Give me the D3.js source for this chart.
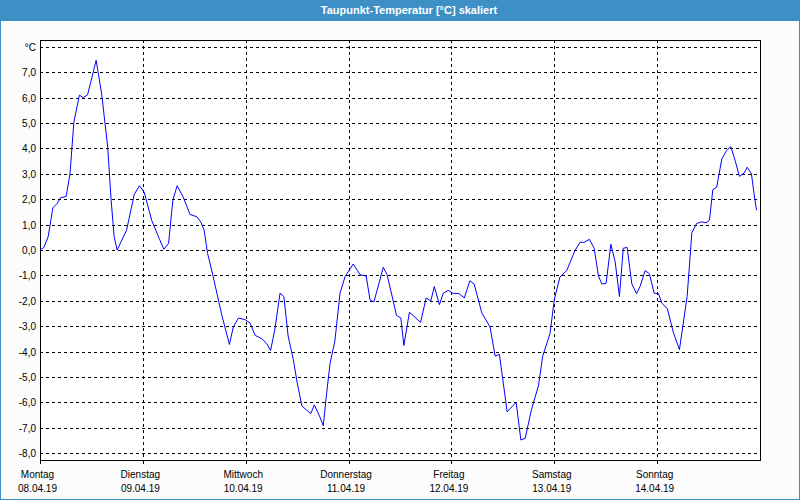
<!DOCTYPE html>
<html>
<head>
<meta charset="utf-8">
<script src="https://cdn.jsdelivr.net/npm/d3@7"></script>
<style>
body { margin: 0; padding: 0; background: #fff; }
svg { display: block; font-family: "Liberation Sans", Arial, sans-serif; }
</style>
</head>
<body>
<script>
var width = 800, height = 500;
//Plot frame inside the window.
var margin = {top: 40, right: 40, bottom: 40, left: 40};
var innerWidth = width - margin.left - margin.right;
var innerHeight = height - margin.top - margin.bottom;

var title = 'Taupunkt-Temperatur [°C] skaliert';
var dayNames = ['Montag', 'Dienstag', 'Mittwoch', 'Donnerstag', 'Freitag', 'Samstag', 'Sonntag'];
var dayDates = ['08.04.19', '09.04.19', '10.04.19', '11.04.19', '12.04.19', '13.04.19', '14.04.19'];
var yTicks = [-8, -7, -6, -5, -4, -3, -2, -1, 0, 1, 2, 3, 4, 5, 6, 7, 8];

//Hours since Monday 00:00 and dew point in °C.
var hours = [0, 0.9, 1.9, 3.0, 4.0, 4.8, 6.1, 7.0, 7.9, 9.2, 10.1, 11.1, 13.1, 14.4, 15.8, 16.6, 17.3, 18.0,
	20.2, 22.0, 23.2, 24.3, 26.1, 27.8, 28.9, 30.0, 31.0, 32.0, 33.4, 35.0, 36.6, 37.5, 38.3, 39.1, 40.4, 42.4,
	44.2, 45.1, 46.3, 47.8, 49.0, 50.2, 51.7, 52.9, 53.8, 54.8, 56.0, 56.9, 57.9, 59.1, 60.0, 61.1, 62.1, 63.2,
	64.0, 65.2, 66.1, 66.9, 67.7, 68.8, 70.0, 71.2, 73.1, 74.7, 76.1, 77.0, 77.9, 80.1, 81.0, 83.2, 84.2, 84.9,
	86.2, 88.8, 90.1, 91.2, 92.0, 93.2, 94.1, 95.3, 96.3, 97.8, 99.0, 100.3, 101.3, 103.1, 105.0, 106.2, 107.2,
	109.0, 111.1, 112.2, 113.2, 114.7, 116.3, 117.3, 119.0, 120.0, 121.3, 122.9, 124.8, 126.0, 126.9, 128.2,
	129.3, 130.3, 131.1, 132.1, 133.2, 134.2, 135.2, 136.1, 137.0, 138.1, 139.2, 140.0, 141.2, 142.2, 143.3,
	144.3, 145.1, 146.4, 147.8, 149.2, 150.0, 151.0, 152.1, 153.2, 154.4, 155.4, 156.2, 157.0, 157.9, 159.1,
	160.2, 161.2, 162.2, 163.2, 164.3, 165.0, 166.0, 166.6, 167.2];
var values = [0, 0.1, 0.52, 1.66, 1.83, 2.06, 2.11, 3.0, 5.03, 6.1, 6.0, 6.11, 7.47, 6.14, 4.05, 1.96, 0.52, 0,
	0.78, 2.19, 2.53, 2.28, 1.15, 0.46, 0.03, 0.26, 1.96, 2.53, 2.09, 1.40, 1.31, 1.11, 0.78, -0.13, -1.04, -2.55,
	-3.72, -3.03, -2.68, -2.74, -2.87, -3.36, -3.49, -3.68, -3.96, -3.13, -1.70, -1.83, -3.39, -4.31, -5.22, -6.14, -6.29, -6.44,
	-6.10, -6.53, -6.92, -5.61, -4.44, -3.59, -1.70, -1.04, -0.55, -0.98, -1.02, -1.96, -2.05, -0.68, -0.98, -2.58, -2.68, -3.76,
	-2.45, -2.85, -1.89, -2.0, -1.44, -2.15, -1.70, -1.59, -1.70, -1.72, -1.89, -1.21, -1.34, -2.48, -3.03, -4.18, -4.11,
	-6.37, -6.0, -7.48, -7.42, -6.27, -5.35, -4.18, -3.29, -1.96, -1.07, -0.81, -0.03, 0.30, 0.30, 0.42,
	0.07, -1.02, -1.34, -1.31, 0.23, -0.46, -1.83, 0.07, 0.10, -1.34, -1.72, -1.44, -0.81, -0.94, -1.70,
	-1.72, -2.09, -2.32, -3.26, -3.92, -3.0, -1.83, 0.68, 1.04, 1.11, 1.07, 1.17, 2.38, 2.48, 3.59,
	3.92, 4.07, 3.52, 2.90, 3.03, 3.26, 3.0, 2.22, 1.57];

var data = hours.map(function(h, i) { return {h: h, v: values[i]}; });

var svg = d3.select('body').append('svg')
	.attr('width', width)
	.attr('height', height);

//Window background, title bar and blue frame.
svg.append('rect')
	.attr('width', width).attr('height', height)
	.style('fill', '#fbfcfb');
svg.append('rect')
	.attr('x', 0.5).attr('y', 0.5)
	.attr('width', width - 1).attr('height', height - 1)
	.style('fill', 'none').style('stroke', '#3d8fc5');
svg.append('rect')
	.attr('width', width).attr('height', 21)
	.style('fill', '#3d8fc5');
svg.append('text')
	.attr('x', 409).attr('y', 14)
	.attr('text-anchor', 'middle')
	.style('fill', '#fff')
	.style('font-size', '11px')
	.style('font-weight', 'bold')
	.text(title);

var xScale = d3.scaleLinear().domain([0, 168]).range([0, innerWidth]);
var yScale = d3.scaleLinear().domain([-8.27, 8.27]).range([innerHeight, 0]);

var inner = svg.append('g')
	.attr('transform', 'translate(' + margin.left + ',' + margin.top + ')');

inner.append('rect')
	.attr('width', innerWidth).attr('height', innerHeight)
	.style('fill', '#fff');

//Horizontal grid.
inner.selectAll('.hgrid').data(yTicks).enter().append('line')
	.attr('class', 'hgrid')
	.attr('x1', 0).attr('x2', innerWidth)
	.attr('y1', function(d) { return Math.round(yScale(d)) + 0.5; })
	.attr('y2', function(d) { return Math.round(yScale(d)) + 0.5; })
	.style('stroke', '#000')
	.style('stroke-dasharray', '3,3');
//Y labels, decimal comma.
svg.selectAll('.ylabel').data(yTicks).enter().append('text')
	.attr('class', 'ylabel')
	.attr('x', margin.left - 4)
	.attr('y', function(d) { return margin.top + yScale(d) + 4; })
	.attr('text-anchor', 'end')
	.style('font-size', '10px')
	.style('fill', '#000')
	.text(function(d) { return d == 8 ? '°C' : d3.format('.1f')(d).replace('.', ',').replace('−', '-'); });

//Vertical grid at each midnight.
var dayTicks = d3.range(7).map(function(d) { return d * 24; });
inner.selectAll('.vgrid').data(dayTicks.slice(1)).enter().append('line')
	.attr('class', 'vgrid')
	.attr('x1', function(d) { return Math.round(xScale(d)) + 0.5; })
	.attr('x2', function(d) { return Math.round(xScale(d)) + 0.5; })
	.attr('y1', 0).attr('y2', innerHeight)
	.style('stroke', '#000')
	.style('stroke-dasharray', '3,3');

//Bottom ticks and two-line day labels.
inner.selectAll('.xtick').data(dayTicks).enter().append('line')
	.attr('class', 'xtick')
	.attr('x1', function(d) { return Math.round(xScale(d)) + 0.5; })
	.attr('x2', function(d) { return Math.round(xScale(d)) + 0.5; })
	.attr('y1', innerHeight).attr('y2', innerHeight + 4)
	.style('stroke', '#000');
inner.selectAll('.dayname').data(dayTicks).enter().append('text')
	.attr('class', 'dayname')
	.attr('x', function(d) { return xScale(d) - 2.5; })
	.attr('y', innerHeight + 18)
	.attr('text-anchor', 'middle')
	.style('font-size', '10px')
	.style('fill', '#000')
	.text(function(d, i) { return dayNames[i]; });
inner.selectAll('.daydate').data(dayTicks).enter().append('text')
	.attr('class', 'daydate')
	.attr('x', function(d) { return xScale(d) - 2.5; })
	.attr('y', innerHeight + 32)
	.attr('text-anchor', 'middle')
	.style('font-size', '10px')
	.style('fill', '#000')
	.text(function(d, i) { return dayDates[i]; });

//Plot frame.
inner.append('rect')
	.attr('x', 0.5).attr('y', 0.5)
	.attr('width', innerWidth).attr('height', innerHeight)
	.style('fill', 'none')
	.style('stroke', '#000');

//Dew point line.
var line = d3.line()
	.x(function(d) { return xScale(d.h); })
	.y(function(d) { return yScale(d.v); });
inner.append('path')
	.datum(data)
	.attr('d', line)
	.style('fill', 'none')
	.style('stroke', '#0000ff')
	.style('stroke-width', 1);
</script>
</body>
</html>
